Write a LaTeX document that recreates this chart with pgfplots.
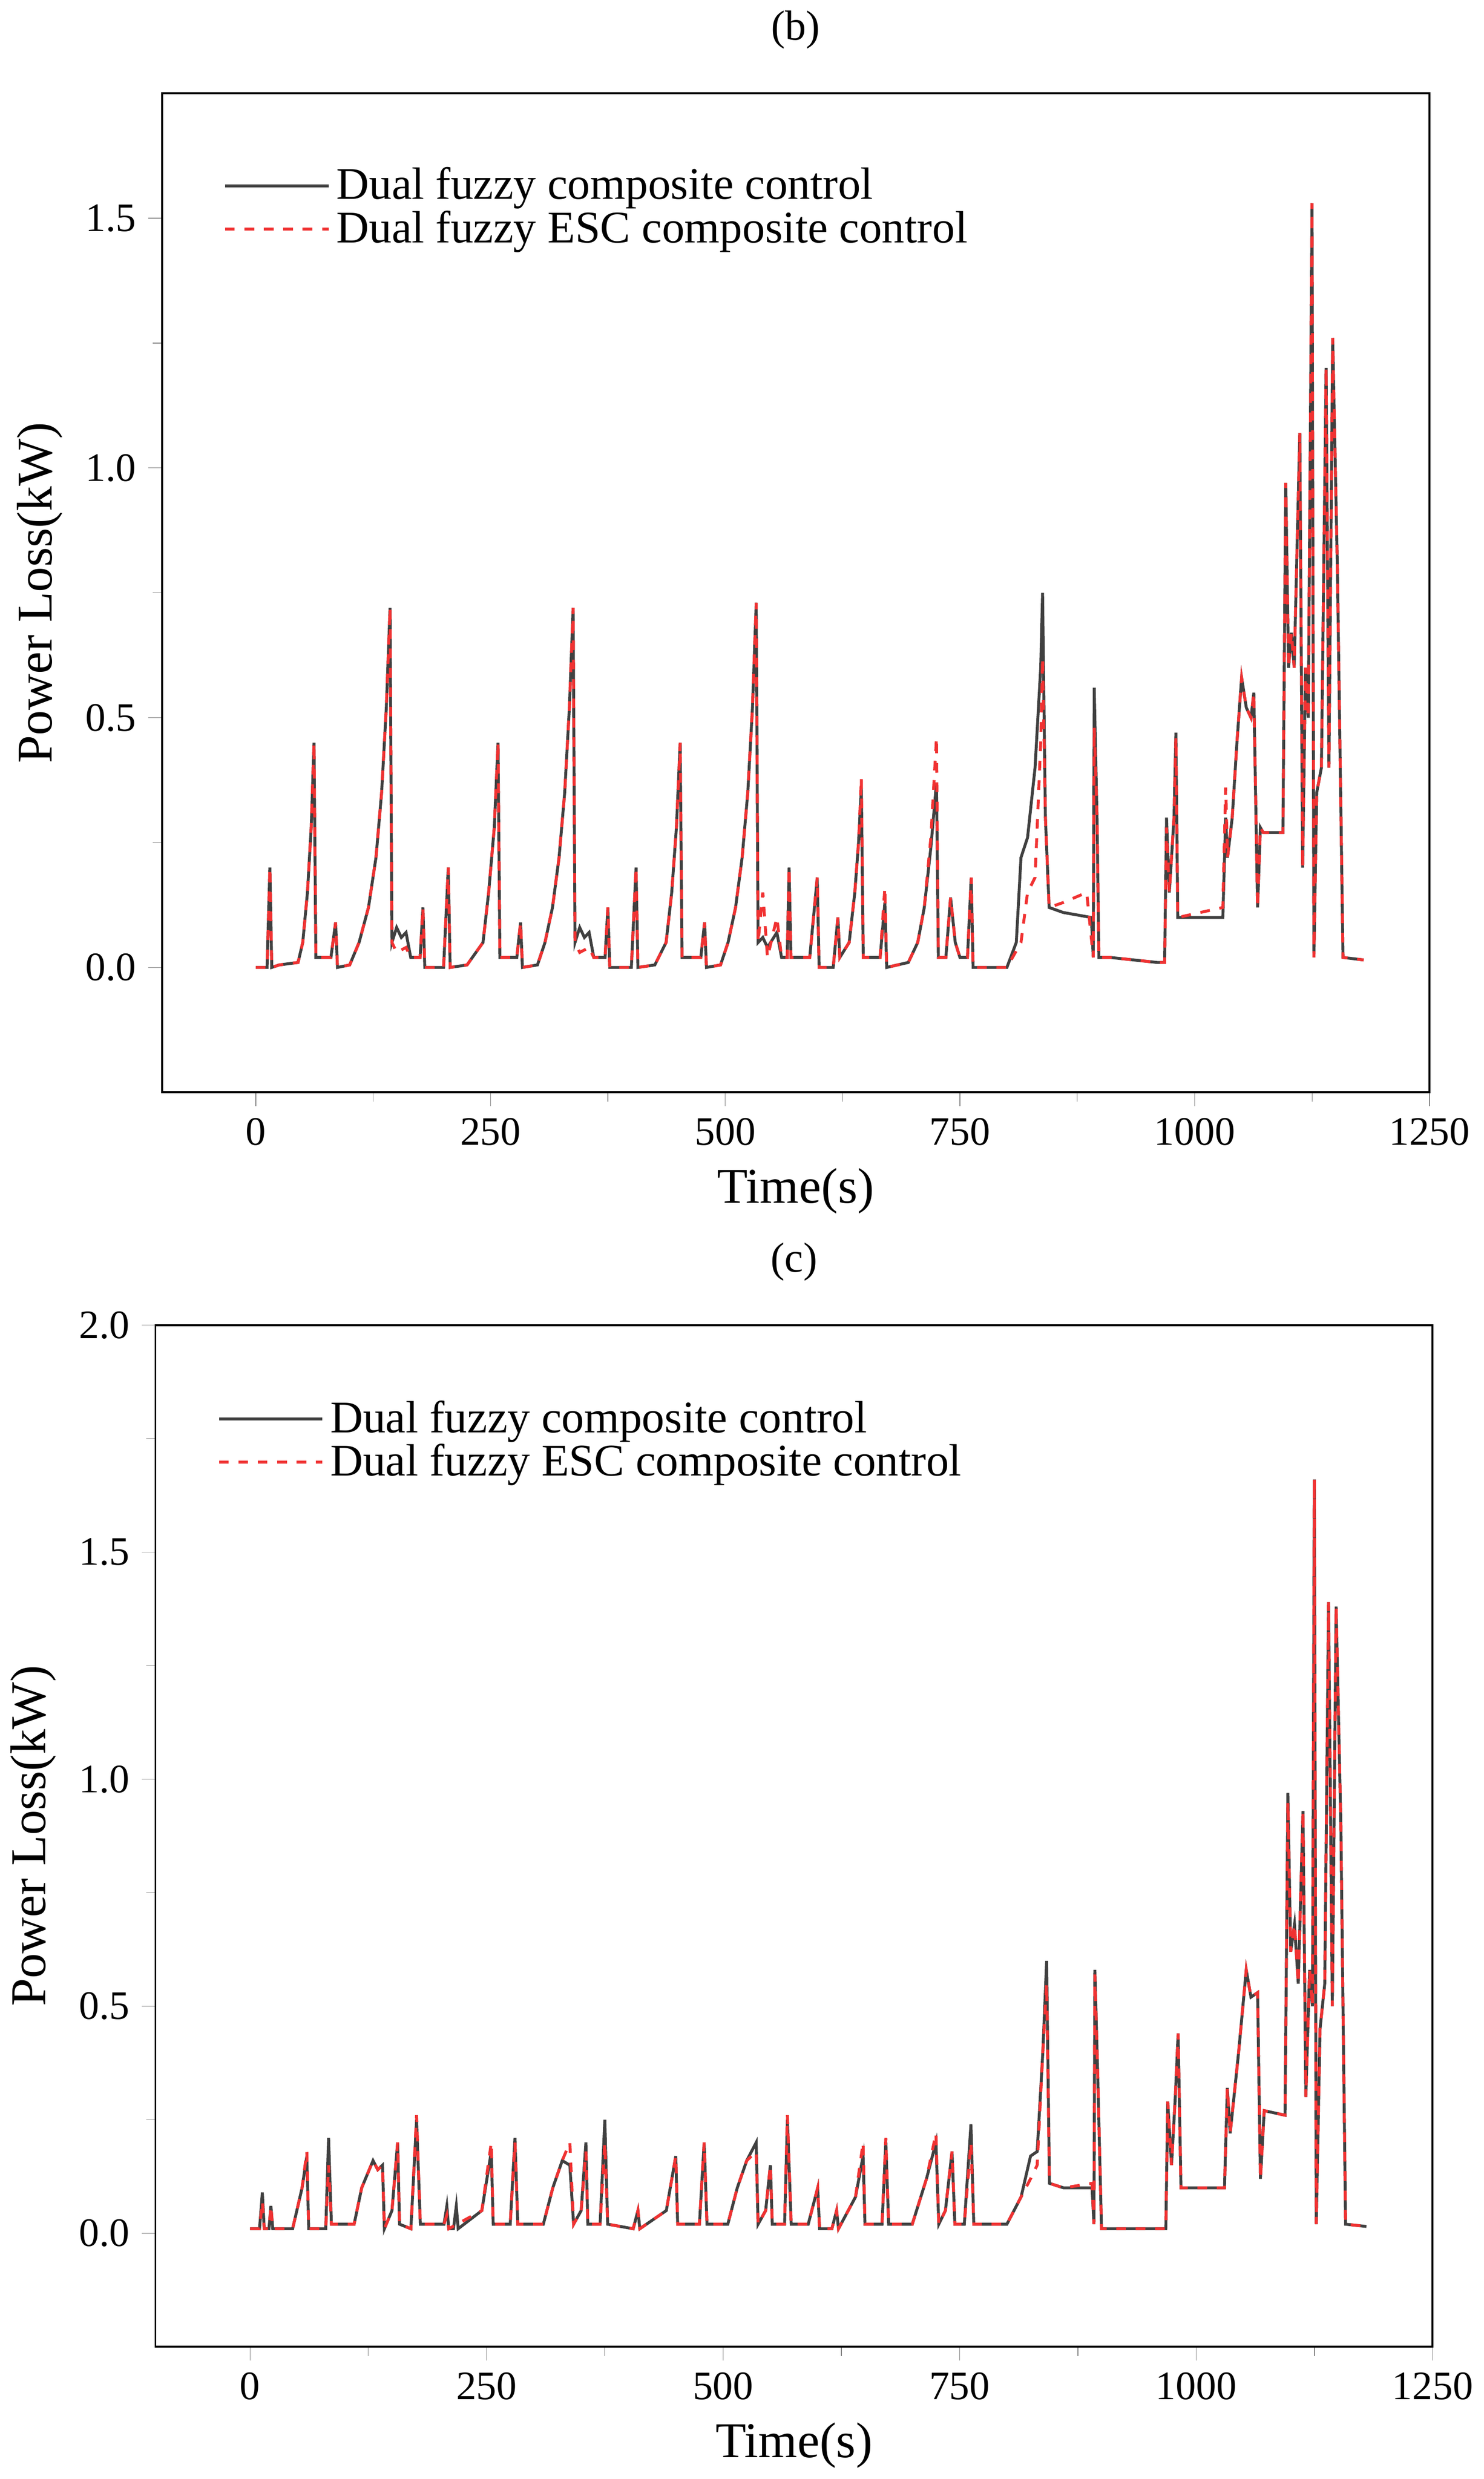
\documentclass[border=0pt]{standalone}
\usepackage{pgfplots}
\pgfplotsset{compat=1.18}
\usepackage{fontspec}
\setmainfont{Liberation Serif}
\definecolor{dk}{RGB}{64,64,64}
\definecolor{rd}{RGB}{240,50,50}
\pgfplotsset{
 common/.style={
  width=392pt, scale only axis, xmin=-100, xmax=1250,
  xtick={0,250,500,750,1000,1250},
  minor x tick num=1, minor y tick num=1,
  tick align=outside, tick pos=left,
  /pgf/number format/assume math mode=true,
  /pgf/number format/1000 sep={},
  /pgf/number format/fixed, /pgf/number format/fixed zerofill,
  ticklabel style={font=\fontsize{12.5}{14}\selectfont},
  label style={font=\fontsize{15.5}{18}\selectfont},
  xlabel={Time(s)}, ylabel={Power Loss(kW)},
  legend style={draw=none, fill=none, at={(0.04,0.94)}, anchor=north west, font=\fontsize{14}{16}\selectfont, row sep=-2pt},
  legend image code/.code={\draw[#1] (0pt,0pt) -- (32pt,0pt);},
  legend cell align=left, clip=true, line width=0.8pt, axis line style={line width=0.6pt},
 }
}
\begin{document}
\begin{tikzpicture}
\begin{axis}[common, at={(50pt,400pt)}, height=309pt, ymin=-0.25, ymax=1.75, ytick={0,0.5,1,1.5},
 yticklabel style={/pgf/number format/precision=1}, xticklabel style={/pgf/number format/precision=0},
 title={(b)}, title style={font=\fontsize{13}{15}\selectfont, yshift=4pt}]
\addplot[dk, line width=0.9pt] coordinates {
(0,0)(12,0)(15,0.2)(17,0)(25,0.005)(45,0.01)(50,0.05)(55,0.15)(59,0.28)(62,0.45)(64,0.02)(80,0.02)(85,0.09)(87,0)(100,0.005)(110,0.05)(120,0.12)(128,0.22)(134,0.35)(139,0.52)(143,0.72)(145,0.05)(150,0.08)(155,0.06)(160,0.07)(165,0.02)(175,0.02)(178,0.12)(180,0)(200,0)(205,0.2)(207,0)(225,0.005)(242,0.05)(248,0.15)(254,0.28)(258,0.45)(260,0.02)(278,0.02)(282,0.09)(284,0)(300,0.005)(308,0.05)(316,0.12)(323,0.22)(329,0.35)(334,0.52)(338,0.72)(340,0.05)(345,0.08)(350,0.06)(355,0.07)(360,0.02)(372,0.02)(375,0.12)(377,0)(400,0)(405,0.2)(407,0)(425,0.005)(437,0.05)(443,0.15)(448,0.28)(452,0.45)(454,0.02)(474,0.02)(478,0.09)(480,0)(495,0.005)(503,0.05)(511,0.12)(518,0.22)(524,0.35)(529,0.52)(533,0.73)(535,0.05)(540,0.06)(545,0.04)(555,0.07)(560,0.02)(566,0.02)(568,0.2)(570,0.02)(590,0.02)(598,0.18)(600,0)(615,0)(620,0.1)(622,0.02)(632,0.05)(638,0.15)(642,0.25)(645,0.36)(647,0.02)(665,0.02)(670,0.13)(672,0)(695,0.01)(705,0.05)(712,0.12)(719,0.24)(725,0.37)(727,0.02)(735,0.02)(740,0.14)(745,0.05)(750,0.02)(758,0.02)(762,0.18)(764,0)(800,0)(810,0.05)(815,0.22)(822,0.26)(830,0.4)(836,0.6)(838,0.75)(841,0.3)(845,0.12)(860,0.11)(890,0.1)(892,0.02)(893,0.56)(896,0.3)(898,0.02)(910,0.02)(960,0.01)(968,0.01)(970,0.3)(973,0.15)(978,0.3)(980,0.47)(982,0.1)(1030,0.1)(1033,0.3)(1035,0.22)(1040,0.3)(1045,0.45)(1050,0.58)(1055,0.52)(1060,0.5)(1063,0.55)(1067,0.12)(1070,0.28)(1073,0.27)(1094,0.27)(1097,0.97)(1100,0.6)(1103,0.67)(1106,0.6)(1112,1.07)(1115,0.2)(1118,0.6)(1121,0.5)(1125,1.53)(1127,0.02)(1130,0.35)(1135,0.4)(1140,1.2)(1143,0.4)(1147,1.26)(1152,0.8)(1158,0.02)(1180,0.015)};
\addlegendentry{Dual fuzzy composite control}
\addplot[rd, dashed, line width=0.9pt] coordinates {
(0,0)(12,0)(15,0.2)(17,0)(25,0.005)(45,0.01)(50,0.05)(55,0.15)(59,0.28)(62,0.45)(64,0.02)(80,0.02)(85,0.09)(87,0)(100,0.005)(110,0.05)(120,0.12)(128,0.22)(134,0.35)(139,0.52)(143,0.72)(145,0.05)(150,0.03)(160,0.04)(165,0.02)(175,0.02)(178,0.12)(180,0)(200,0)(205,0.2)(207,0)(225,0.005)(242,0.05)(248,0.15)(254,0.28)(258,0.45)(260,0.02)(278,0.02)(282,0.09)(284,0)(300,0.005)(308,0.05)(316,0.12)(323,0.22)(329,0.35)(334,0.52)(338,0.72)(340,0.05)(345,0.03)(355,0.04)(360,0.02)(372,0.02)(375,0.12)(377,0)(400,0)(405,0.2)(407,0)(425,0.005)(437,0.05)(443,0.15)(448,0.28)(452,0.45)(454,0.02)(474,0.02)(478,0.09)(480,0)(495,0.005)(503,0.05)(511,0.12)(518,0.22)(524,0.35)(529,0.52)(533,0.73)(535,0.05)(540,0.15)(545,0.02)(555,0.1)(560,0.02)(566,0.02)(568,0.2)(570,0.02)(590,0.02)(598,0.18)(600,0)(615,0)(620,0.1)(622,0.02)(632,0.05)(638,0.15)(642,0.25)(645,0.38)(647,0.02)(665,0.02)(670,0.16)(672,0)(695,0.01)(705,0.05)(712,0.12)(719,0.26)(725,0.46)(727,0.02)(735,0.02)(740,0.14)(745,0.05)(750,0.02)(758,0.02)(762,0.18)(764,0)(800,0)(815,0.05)(822,0.15)(830,0.18)(836,0.45)(838,0.62)(841,0.3)(845,0.12)(860,0.13)(885,0.15)(892,0.02)(893,0.48)(896,0.3)(898,0.02)(910,0.02)(960,0.01)(968,0.01)(970,0.28)(973,0.15)(978,0.3)(980,0.46)(982,0.1)(1030,0.12)(1033,0.36)(1035,0.22)(1040,0.3)(1045,0.45)(1050,0.58)(1055,0.52)(1060,0.5)(1063,0.55)(1067,0.12)(1070,0.28)(1073,0.27)(1094,0.27)(1097,0.97)(1100,0.6)(1103,0.67)(1106,0.6)(1112,1.07)(1115,0.2)(1118,0.6)(1121,0.5)(1125,1.53)(1127,0.02)(1130,0.35)(1135,0.4)(1140,1.2)(1143,0.4)(1147,1.26)(1152,0.8)(1158,0.02)(1180,0.015)};
\addlegendentry{Dual fuzzy ESC composite control}
\end{axis}
\begin{axis}[common, at={(48pt,12pt)}, width=395pt, height=316pt, ymin=-0.25, ymax=2.0, ytick={0,0.5,1,1.5,2},
 yticklabel style={/pgf/number format/precision=1}, xticklabel style={/pgf/number format/precision=0},
 title={(c)}, title style={font=\fontsize{13}{15}\selectfont, yshift=4pt}]
\addplot[dk, line width=0.9pt] coordinates {
(0,0.01)(10,0.01)(13,0.09)(15,0.01)(20,0.01)(22,0.06)(24,0.01)(45,0.01)(55,0.1)(60,0.17)(62,0.01)(80,0.01)(83,0.21)(86,0.02)(110,0.02)(118,0.1)(130,0.16)(135,0.14)(140,0.15)(142,0.01)(150,0.05)(156,0.2)(158,0.02)(170,0.01)(176,0.25)(180,0.02)(205,0.02)(208,0.06)(210,0.01)(215,0.01)(218,0.06)(220,0.01)(245,0.05)(255,0.18)(257,0.02)(275,0.02)(280,0.21)(283,0.02)(310,0.02)(320,0.1)(330,0.16)(338,0.15)(342,0.02)(350,0.05)(355,0.2)(357,0.02)(370,0.02)(375,0.25)(378,0.02)(405,0.01)(410,0.05)(412,0.01)(440,0.05)(450,0.17)(452,0.02)(475,0.02)(480,0.2)(483,0.02)(505,0.02)(515,0.1)(525,0.16)(535,0.2)(537,0.02)(545,0.05)(550,0.15)(552,0.02)(565,0.02)(568,0.25)(572,0.02)(590,0.02)(600,0.1)(602,0.01)(615,0.01)(620,0.05)(622,0.01)(640,0.08)(648,0.17)(650,0.02)(668,0.02)(672,0.2)(675,0.02)(700,0.02)(715,0.12)(725,0.2)(728,0.02)(735,0.05)(742,0.18)(745,0.02)(755,0.02)(762,0.24)(765,0.02)(800,0.02)(815,0.08)(825,0.17)(832,0.18)(838,0.4)(842,0.6)(845,0.11)(860,0.1)(890,0.1)(892,0.02)(893,0.58)(896,0.35)(900,0.01)(968,0.01)(970,0.29)(974,0.15)(978,0.3)(981,0.44)(984,0.1)(1030,0.1)(1033,0.32)(1036,0.22)(1045,0.4)(1053,0.58)(1058,0.52)(1065,0.53)(1068,0.12)(1072,0.27)(1094,0.26)(1097,0.97)(1100,0.62)(1104,0.68)(1108,0.55)(1113,0.93)(1116,0.3)(1120,0.58)(1123,0.5)(1125,1.66)(1127,0.02)(1131,0.45)(1136,0.55)(1140,1.39)(1144,0.5)(1148,1.38)(1153,0.9)(1158,0.02)(1180,0.015)};
\addlegendentry{Dual fuzzy composite control}
\addplot[rd, dashed, line width=0.9pt] coordinates {
(0,0.01)(10,0.01)(13,0.07)(15,0.01)(20,0.01)(22,0.06)(24,0.01)(45,0.01)(55,0.1)(60,0.18)(62,0.01)(80,0.01)(83,0.15)(86,0.02)(110,0.02)(118,0.1)(130,0.16)(135,0.14)(140,0.15)(142,0.01)(150,0.05)(156,0.2)(158,0.02)(170,0.01)(176,0.26)(180,0.02)(205,0.02)(208,0.04)(210,0.01)(245,0.05)(255,0.2)(257,0.02)(275,0.02)(280,0.2)(283,0.02)(310,0.02)(320,0.1)(330,0.16)(338,0.2)(342,0.02)(350,0.05)(355,0.18)(357,0.02)(370,0.02)(375,0.2)(378,0.02)(405,0.01)(410,0.05)(412,0.01)(440,0.05)(450,0.17)(452,0.02)(475,0.02)(480,0.2)(483,0.02)(505,0.02)(515,0.1)(525,0.16)(535,0.18)(537,0.02)(545,0.05)(550,0.15)(552,0.02)(565,0.02)(568,0.26)(572,0.02)(590,0.02)(600,0.1)(602,0.01)(615,0.01)(620,0.05)(622,0.01)(640,0.08)(648,0.2)(650,0.02)(668,0.02)(672,0.21)(675,0.02)(700,0.02)(715,0.12)(725,0.22)(728,0.02)(735,0.05)(742,0.18)(745,0.02)(755,0.02)(762,0.2)(765,0.02)(800,0.02)(815,0.08)(825,0.12)(832,0.15)(838,0.4)(842,0.55)(845,0.11)(860,0.1)(890,0.11)(892,0.02)(893,0.57)(896,0.35)(900,0.01)(968,0.01)(970,0.29)(974,0.15)(978,0.3)(981,0.44)(984,0.1)(1030,0.1)(1033,0.32)(1036,0.22)(1045,0.4)(1053,0.58)(1058,0.52)(1065,0.53)(1068,0.12)(1072,0.27)(1094,0.26)(1097,0.95)(1100,0.62)(1104,0.68)(1108,0.55)(1113,0.93)(1116,0.3)(1120,0.58)(1123,0.5)(1125,1.66)(1127,0.02)(1131,0.45)(1136,0.55)(1140,1.39)(1144,0.5)(1148,1.38)(1153,0.9)(1158,0.02)(1180,0.015)};
\addlegendentry{Dual fuzzy ESC composite control}
\end{axis}
\end{tikzpicture}
\end{document}
